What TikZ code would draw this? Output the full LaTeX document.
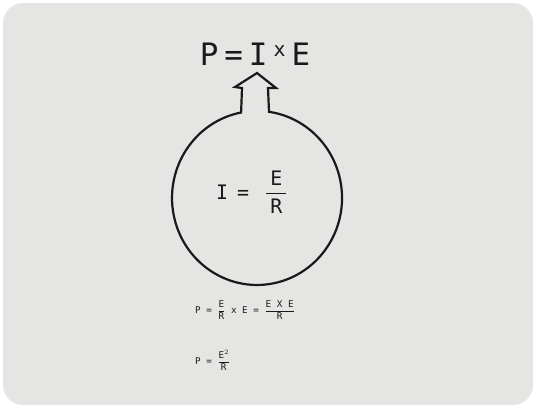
\documentclass[tikz,border=0pt]{standalone}
\usepackage{amsmath}
\usepackage{fontspec}
\setmainfont{DejaVu Sans Mono}
\usetikzlibrary{positioning}
\definecolor{cardgrey}{RGB}{229,229,227}
\definecolor{inkblack}{RGB}{25,25,25}

\begin{document}
\begin{tikzpicture}[
  x=1bp, y=-1bp,
  every node/.style={text=inkblack, inner sep=0pt},
  bigtxt/.style={font=\fontsize{31}{31}\selectfont},
  midtxt/.style={font=\fontsize{20}{20}\selectfont},
  smalltxt/.style={font=\fontsize{9.3}{9.3}\selectfont, anchor=west},
  bulb/.style={draw=inkblack, line width=2.2bp}
]
\useasboundingbox (0,0) rectangle (535,407);
\fill[cardgrey, rounded corners=20bp] (3,3) rectangle (533,405);

% round body with the arrow on top
\draw[bulb] (241.1,112.5) arc[start angle=-100.8, end angle=-441.9, x radius=85, y radius=87]
  -- (268,88) -- (276,88) -- (257,73) -- (235,87) -- (242,88) -- cycle;

\node[bigtxt, anchor=base] (power) at (255,65)
  {P\hspace{6bp}=\hspace{6bp}I\hspace{6bp}\raisebox{9bp}{\fontsize{20}{20}\selectfont x}\hspace{6bp}E};
\node[midtxt, anchor=base west] (current) at (216,199)
  {I\hspace{9bp}=\hspace{16bp}$\dfrac{\mbox{\hspace{4bp}E\hspace{4bp}}}{\mbox{R}}$};

% worked out below
\node[smalltxt] (expand) at (195,310)
  {P = $\dfrac{\mbox{E}}{\mbox{R}}$ x E = $\dfrac{\mbox{E X E}}{\mbox{R}}$};
\node[smalltxt] (squared) at (195,360)
  {P = $\dfrac{\mbox{E$^2$}}{\mbox{R}}$};
\end{tikzpicture}
\end{document}
